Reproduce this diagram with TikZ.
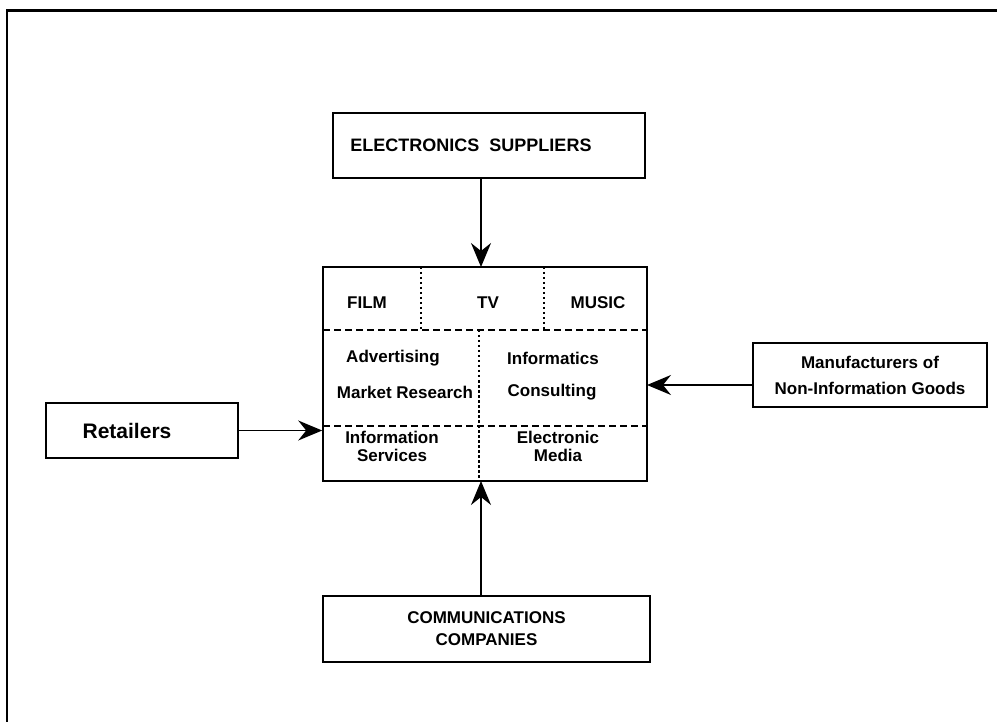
\documentclass[tikz,border=0pt]{standalone}
\usepackage{fontspec}
\setmainfont{Liberation Sans}
\usetikzlibrary{arrows.meta}

\begin{document}
\begin{tikzpicture}[x=1pt,y=-1pt,
  box/.style={draw,line width=1.6pt,inner sep=0pt,align=center},
  lbl/.style={font=\fontsize{17}{18}\selectfont\bfseries,inner sep=0pt,align=center},
  feed/.style={line width=1.5pt,-{Stealth[length=24pt,width=20pt,inset=8pt]}},
  rowline/.style={line width=1.4pt,dash pattern=on 7pt off 4pt},
  colline/.style={line width=1.4pt,dash pattern=on 2.5pt off 2.5pt}]
\useasboundingbox (0,0) rectangle (997,722);
% frame
\draw[line width=2pt] (7,722) -- (7,11);
\draw[line width=3pt] (6,11) -- (997,11);
% outer boxes
\node[box,lbl,minimum width=312,minimum height=65,font=\fontsize{18}{19}\selectfont\bfseries] (elec) at (489,145.5) {ELECTRONICS\ \ SUPPLIERS\hspace*{36pt}};
\node[box,lbl,minimum width=192,minimum height=55,font=\fontsize{21}{22}\selectfont\bfseries] (ret) at (142,430.5) {Retailers\hspace*{30pt}};
\node[box,lbl,minimum width=234,minimum height=64] (manu) at (870,375) {Manufacturers of\\[8pt]Non-Information Goods};
\node[box,lbl,minimum width=327,minimum height=66] (comm) at (486.5,629) {COMMUNICATIONS\\[4pt]COMPANIES};
% centre block
\node[box,minimum width=324,minimum height=214] (hub) at (485,374) {};
\draw[rowline] (323,330) -- (647,330);
\draw[rowline] (323,426) -- (647,426);
\draw[colline] (421,267) -- (421,330);
\draw[colline] (544,267) -- (544,330);
\draw[colline] (479,330) -- (479,481);
\node[lbl] (film) at (367,303) {FILM};
\node[lbl] (tv) at (488,303) {TV};
\node[lbl] (music) at (598,303) {MUSIC};
\node[lbl] (adv) at (393,358) {Advertising};
\node[lbl] (mres) at (405,392) {Market Research};
\node[lbl] (infx) at (553,358) {Informatics};
\node[lbl] (cons) at (552,392) {Consulting};
\node[lbl] (isrv) at (392,446) {Information\\Services};
\node[lbl] (emed) at (558,446) {Electronic\\Media};
% arrows in
\coordinate (ein) at (481,267);
\coordinate (cin) at (481,481);
\coordinate (min) at (647,385);
\draw[feed] (elec.south -| ein) -- (ein);
\draw[feed] (comm.north -| cin) -- (cin);
\draw[feed] (ret.east) -- (ret.east -| hub.west);
\draw[feed] (manu.west |- min) -- (min);
\end{tikzpicture}
\end{document}
